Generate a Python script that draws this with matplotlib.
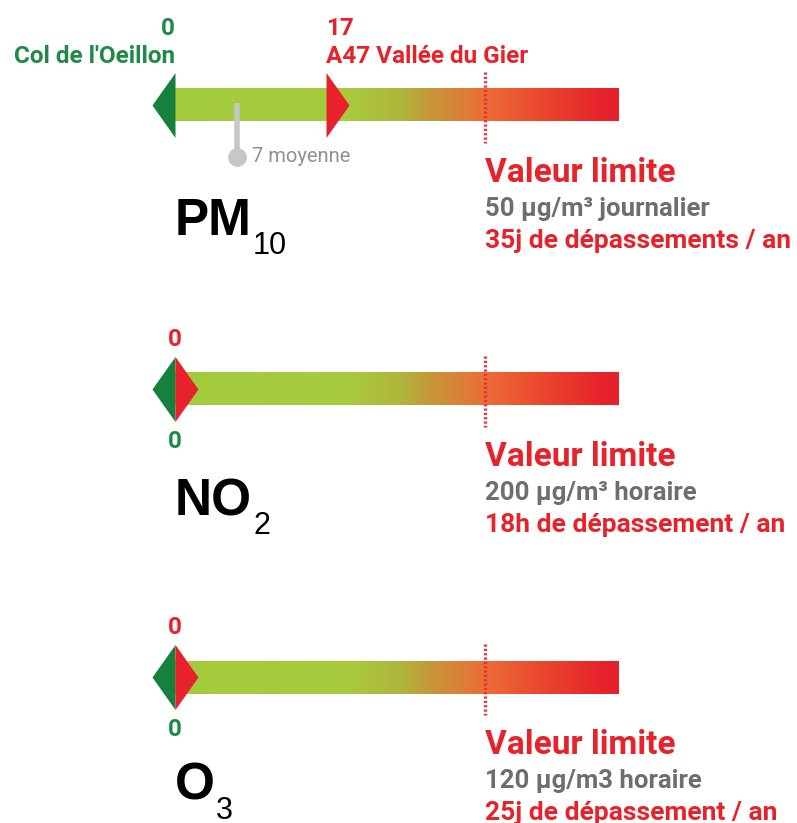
import numpy as np
import matplotlib.pyplot as plt
from matplotlib.path import Path
from matplotlib.colors import LinearSegmentedColormap

# Données (jours / heures de dépassement)
polluants = ['PM', 'NO', 'O']
indices = ['10', '2', '3']
val_min = [0, 0, 0]        # Col de l'Oeillon
val_max = [17, 0, 0]       # A47 Vallée du Gier
moyennes = [7, None, None]
limites = [35, 18, 25]
seuils = ['50 µg/m³ journalier', '200 µg/m³ horaire', '120 µg/m3 horaire']
depass = ['35j de dépassements / an', '18h de dépassement / an',
          '25j de dépassement / an']
site_min = "Col de l'Oeillon"
site_max = 'A47 Vallée du Gier'

W, H = 797, 823
centres = [105, 389, 677]      # centre vertical de chaque barre (px)
X0, XLIM = 175, 485            # position du 0 et de la valeur limite (px)
FIN = 1.432                    # fin de la barre, en multiple de la limite

VERT = '#17803d'
VERT_TXT = '#1f8a46'
ROUGE = '#e8222b'
GRIS = '#6d6e72'
COND = ['Roboto', 'DejaVu Sans']
SANS = ['Liberation Sans', 'DejaVu Sans']

cmap = LinearSegmentedColormap.from_list('barre', [
    (0.0, '#a3cd3d'), (0.39, '#a8cb3c'), (0.51, '#b0b53c'), (0.57, '#c49a3a'),
    (0.70, '#ec6d36'), (0.82, '#ea4a2f'), (0.96, '#e6232a'), (1.0, '#e6212a')])

tri_g = Path([(0, 1), (-0.708, 0), (0, -1), (0, 1)],
             [Path.MOVETO, Path.LINETO, Path.LINETO, Path.CLOSEPOLY])
tri_r = Path([(0, 1), (0.708, 0), (0, -1), (0, 1)],
             [Path.MOVETO, Path.LINETO, Path.LINETO, Path.CLOSEPOLY])

fig = plt.figure(figsize=(W / 100, H / 100), dpi=100)
renderer = fig.canvas.get_renderer()

for i in range(3):
    lim = limites[i]
    c = centres[i]
    ax = fig.add_axes([0, 0, 1, 1])
    ax.set_xlim(-X0 / (XLIM - X0) * lim, (W - X0) / (XLIM - X0) * lim)
    ax.set_ylim(H - c, -c)
    ax.axis('off')
    ax.patch.set_alpha(0)

    # barre en dégradé
    ax.imshow(np.linspace(0, 1, 256)[None, :], cmap=cmap, aspect='auto',
              extent=[0, FIN * lim, 16.5, -16.5], zorder=1, interpolation='bilinear')

    # valeur limite
    ax.plot([lim, lim], [-33, 38], color='#e8333d', lw=2.4,
            linestyle=(0, (0.65, 0.65)), zorder=3, solid_capstyle='butt')

    # min / max
    ax.plot(val_min[i], 0, marker=tri_g, ms=46.8, color=VERT, mew=0, zorder=4)
    ax.plot(val_max[i], 0, marker=tri_r, ms=46.8, color=ROUGE, mew=0, zorder=4)

    if moyennes[i] is not None:
        m = moyennes[i]
        ax.plot([m, m], [-2, 52], color='#c6c7c9', lw=4, zorder=2,
                solid_capstyle='butt')
        ax.plot(m, 52, 'o', ms=13.5, color='#c6c7c9', mew=0, zorder=2)
        ax.annotate(f'{m} moyenne', xy=(m, 52), xytext=(11, 0),
                    textcoords='offset points', va='center', ha='left',
                    fontsize=14.5, color='#8e9093', family=COND)

    kw = dict(va='baseline', fontsize=17.5, fontweight='bold', family=COND)
    if val_max[i] != val_min[i]:
        ax.text(val_min[i], -70, str(val_min[i]), ha='right', color=VERT_TXT, **kw)
        ax.text(val_min[i], -42, site_min, ha='right', color=VERT_TXT, **kw)
        ax.text(val_max[i], -70, str(val_max[i]), ha='left', color=ROUGE, **kw)
        ax.text(val_max[i], -42, site_max, ha='left', color=ROUGE, **kw)
    else:
        ax.text(val_max[i], -43, str(val_max[i]), ha='center', color=ROUGE, **kw)
        ax.text(val_min[i], 59, str(val_min[i]), ha='center', color=VERT_TXT, **kw)

    # texte valeur limite
    ax.text(lim, 77, 'Valeur limite', ha='left', va='baseline', fontsize=24,
            fontweight='bold', color=ROUGE, family=COND)
    ax.text(lim, 111, seuils[i], ha='left', va='baseline', fontsize=18.5,
            fontweight='bold', color=GRIS, family=COND)
    ax.text(lim, 143, depass[i], ha='left', va='baseline', fontsize=19,
            fontweight='bold', color=ROUGE, family=COND)

    # nom du polluant
    dy = [130, 126, 123][i]
    t = ax.text(0, dy, polluants[i], ha='left', va='baseline', fontsize=37,
                fontweight='bold', color='black', family=SANS)
    bb = t.get_window_extent(renderer)
    x_sub = ax.transData.inverted().transform((bb.x1 + 1, 0))[0]
    ax.text(x_sub, dy + 19, indices[i], ha='left', va='baseline', fontsize=22,
            color='black', family=SANS)

fig.savefig('out.png', dpi=100)
